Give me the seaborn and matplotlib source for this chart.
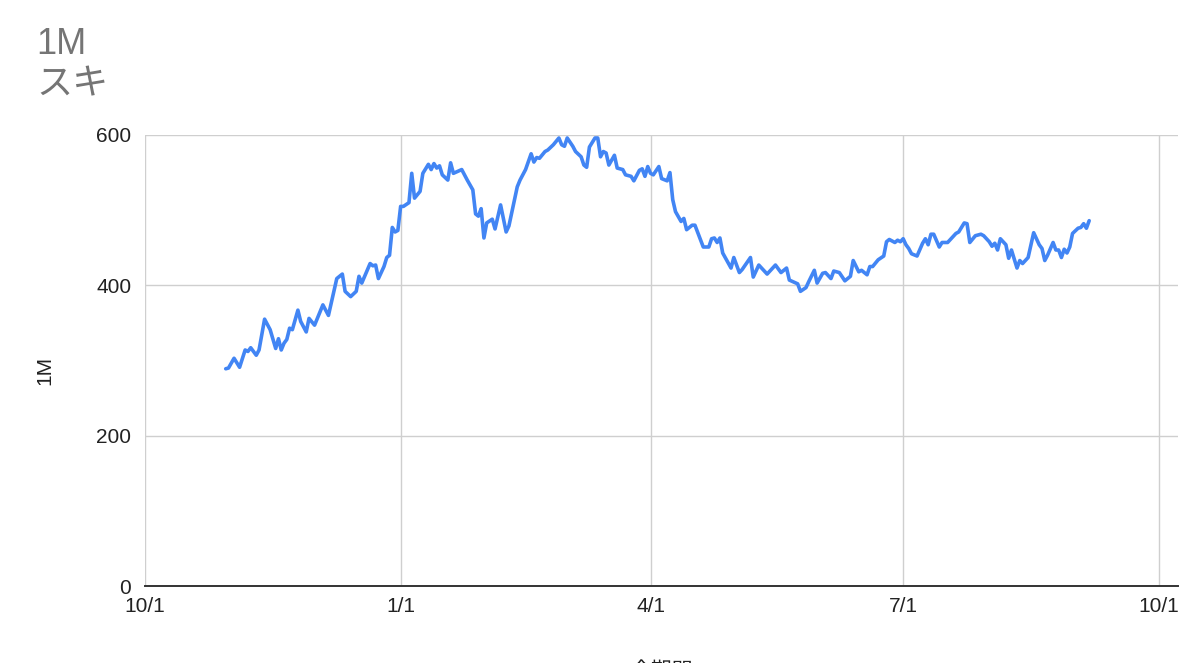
import matplotlib
matplotlib.use("Agg")
import matplotlib.pyplot as plt
import numpy as np
import pandas as pd
import seaborn as sns

# ---- data ----
start_date = "2022-10-01"
day_offset = [29, 30, 32, 34, 36, 37, 38, 40, 41, 43, 45, 47, 48, 49, 50, 51, 52, 53, 55, 56,
              58, 59, 61, 64, 66, 69, 71, 72, 74, 76, 77, 78, 81, 82, 83, 84, 86, 87, 88, 89,
              90, 91, 92, 93, 95, 96, 97, 99, 100, 102, 103, 104, 105, 106, 107, 109, 110, 111, 114, 116,
              118, 119, 120, 121, 122, 123, 125, 126, 128, 130, 131, 134, 135, 137, 139, 140, 141, 142, 144, 145,
              147, 149, 150, 151, 152, 154, 155, 157, 158, 159, 160, 162, 163, 164, 165, 166, 167, 169, 170, 172,
              173, 175, 176, 178, 179, 180, 181, 182, 183, 185, 186, 188, 189, 190, 191, 193, 194, 195, 197, 198,
              201, 203, 204, 205, 206, 207, 208, 211, 212, 214, 215, 218, 219, 221, 224, 227, 229, 231, 232, 235,
              236, 238, 239, 241, 242, 244, 245, 247, 248, 250, 252, 254, 255, 257, 258, 260, 261, 262, 264, 266,
              267, 268, 270, 271, 272, 273, 274, 275, 276, 278, 280, 281, 282, 283, 284, 286, 287, 289, 292, 293,
              295, 296, 297, 299, 301, 302, 304, 305, 306, 307, 308, 310, 311, 312, 314, 315, 316, 318, 320, 322,
              323, 324, 325, 327, 328, 329, 330, 331, 332, 333, 334, 336, 337, 338, 339, 340]
values_1m = [289, 290, 303, 291, 314, 312, 317, 307, 314, 355, 341, 316, 329, 314, 323, 328, 343, 341, 367, 352,
             338, 356, 347, 374, 360, 409, 415, 392, 385, 392, 412, 403, 429, 426, 427, 409, 425, 437, 440, 477,
             471, 473, 505, 505, 510, 549, 516, 525, 549, 561, 554, 562, 556, 559, 547, 540, 563, 549, 554, 540,
             527, 495, 492, 502, 463, 483, 488, 475, 507, 471, 479, 531, 540, 554, 575, 564, 570, 569, 578, 580,
             587, 596, 587, 585, 596, 585, 578, 571, 560, 557, 584, 596, 596, 571, 578, 576, 560, 573, 556, 554,
             547, 545, 539, 553, 555, 545, 558, 549, 547, 558, 542, 539, 550, 514, 498, 485, 489, 474, 480, 480,
             451, 451, 462, 463, 457, 463, 443, 423, 437, 417, 421, 437, 411, 427, 415, 427, 417, 423, 407, 402,
             392, 397, 405, 420, 403, 416, 417, 409, 419, 417, 406, 412, 433, 418, 420, 414, 425, 425, 434, 439,
             458, 461, 457, 460, 458, 462, 454, 449, 442, 439, 456, 462, 454, 468, 468, 451, 457, 457, 469, 471,
             483, 482, 457, 466, 468, 466, 458, 452, 456, 447, 462, 454, 436, 447, 423, 433, 429, 437, 470, 454,
             449, 433, 440, 457, 447, 447, 437, 448, 443, 451, 469, 476, 477, 482, 476, 486]
x_tick_dates = ["2022-10-01", "2023-01-01", "2023-04-01", "2023-07-01", "2023-10-01"]
x_tick_labels = ["10/1", "1/1", "4/1", "7/1", "10/1"]
y_ticks = [0, 200, 400, 600]
title_lines = ["1M", "スキ"]
y_label = "1M"
x_label = "全期間"

# ---- build ----
dates = pd.to_datetime(start_date) + pd.to_timedelta(day_offset, unit="D")
df = pd.DataFrame({"date": dates, "value": values_1m})

sns.set_theme(style="white")
plt.rcParams["font.family"] = ["Liberation Sans", "Noto Sans CJK JP", "DejaVu Sans"]

fig = plt.figure(figsize=(12, 6.63), dpi=100)
ax = fig.add_axes([0.121, 0.1161, 0.8607, 0.6803])

sns.lineplot(data=df, x="date", y="value", ax=ax, color="#4285F4", linewidth=2.6)

ax.set_ylim(0, 600)
ax.set_xlim(pd.to_datetime(start_date), pd.to_datetime(start_date) + pd.Timedelta(days=372))
ax.set_yticks(y_ticks)
ax.set_yticklabels([str(v) for v in y_ticks])
xt = pd.to_datetime(x_tick_dates)
ax.set_xticks(xt)
ax.set_xticklabels(x_tick_labels)

for s in ["top", "right", "left"]:
    ax.spines[s].set_visible(False)
ax.spines["bottom"].set_color("#333333")
ax.spines["bottom"].set_linewidth(1.4)

for v in y_ticks[1:]:
    ax.axhline(v, color="#cfcfcf", linewidth=1.0, zorder=0)
for d in xt:
    ax.axvline(d, color="#cfcfcf", linewidth=1.0, zorder=0)

ax.tick_params(axis="both", length=0, labelsize=15, colors="#222222")
ax.tick_params(axis="y", pad=10)
ax.tick_params(axis="x", pad=8)

ax.set_xlabel("")
ax.set_ylabel(y_label, fontsize=15, color="#222222", labelpad=0)
ax.yaxis.set_label_coords(-0.088, 0.477)

fig.text(0.03, 0.96, title_lines[0], fontsize=26, color="#757575", va="top", ha="left")
fig.text(0.03, 0.899, title_lines[1], fontsize=26, color="#757575", va="top", ha="left")
fig.text(0.551, -0.012, x_label, fontsize=15, color="#222222", va="center", ha="center")

fig.savefig("out.png", dpi=100)
